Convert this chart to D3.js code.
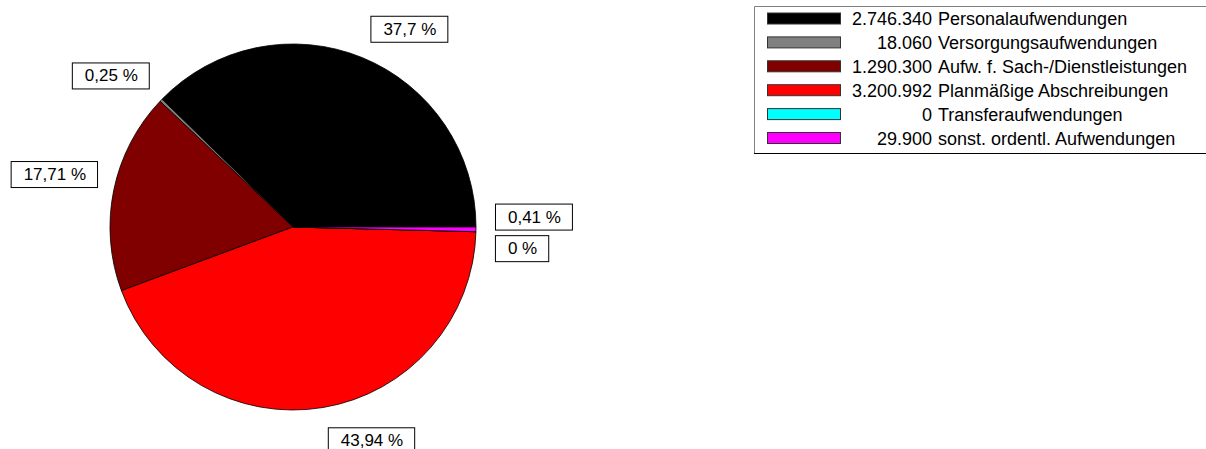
<!DOCTYPE html>
<html>
<head>
<meta charset="utf-8">
<script src="https://cdn.jsdelivr.net/npm/d3@7"></script>
<style>
  html, body { margin: 0; padding: 0; background: #fff; }
  svg { display: block; font-family: "Liberation Sans", Arial, sans-serif; }
</style>
</head>
<body>
<svg id="chart" width="1206" height="449"></svg>
<script>
// ---- data ----
const categories = [
  "Personalaufwendungen",
  "Versorgungsaufwendungen",
  "Aufw. f. Sach-/Dienstleistungen",
  "Planmäßige Abschreibungen",
  "Transferaufwendungen",
  "sonst. ordentl. Aufwendungen"
];
const values = [2746340, 18060, 1290300, 3200992, 0, 29900];
const colors = ["#000000", "#808080", "#800000", "#ff0000", "#00ffff", "#ff00ff"];

// ---- layout ----
const cx = 293, cy = 227, R = 183, labelR = 200;
const fontSize = 17, legendFont = 18;

const svg = d3.select("#chart");
const de = d3.formatLocale({decimal: ",", thousands: ".", grouping: [3], currency: ["", "€"]});
const fmtNum = de.format(",d");
const total = d3.sum(values);
const fmtPct = v => {
  const p = Math.round(v / total * 10000) / 100;
  return de.format(",")(p) + " %";
};

const data = categories.map((c, i) => ({name: c, value: values[i], color: colors[i], i}));

// counter-clockwise starting at 3 o'clock
const pie = d3.pie().value(d => d.value).sort(null)
  .startAngle(Math.PI / 2).endAngle(Math.PI / 2 - 2 * Math.PI);
const arcs = pie(data);
const arc = d3.arc().innerRadius(0).outerRadius(R);

const g = svg.append("g").attr("transform", `translate(${cx},${cy})`);
g.selectAll("path.slice").data(arcs).enter().append("path")
  .attr("class", "slice")
  .attr("d", arc)
  .attr("fill", d => d.data.color)
  .attr("stroke", "#000")
  .attr("stroke-width", 0.8)
  .attr("stroke-linejoin", "round");

// ---- percentage labels ----
const placed = [];
const lab = svg.append("g");
arcs.forEach(a => {
  const mid = (a.startAngle + a.endAngle) / 2;
  const ax = cx + labelR * Math.sin(mid);
  const ay = cy - labelR * Math.cos(mid);
  const txt = fmtPct(a.data.value);
  const t = lab.append("text").attr("font-size", fontSize).text(txt);
  const tw = t.node().getComputedTextLength();
  const bw = tw + 24, bh = 26;
  const right = Math.sin(mid) >= 0;
  let up = Math.cos(mid) > 0;
  let bx = right ? ax + 2 : ax - bw;
  let by = up ? ay - bh : ay + 3;
  const overlaps = (x, y) => placed.some(p => x < p.x + p.w && x + bw > p.x && y < p.y + p.h && y + bh > p.y);
  if (overlaps(bx, by)) {
    up = !up;
    by = up ? ay - bh : ay + 3;
  }
  placed.push({x: bx, y: by, w: bw, h: bh});
  lab.append("rect")
    .attr("x", bx + 0.5).attr("y", by + 0.5)
    .attr("width", bw).attr("height", bh)
    .attr("fill", "#fff").attr("stroke", "#000").attr("stroke-width", 1);
  t.attr("x", bx + bw / 2 + 1).attr("y", by + bh / 2 + 0.5)
    .attr("text-anchor", "middle").attr("dominant-baseline", "central")
    .attr("fill", "#000");
  t.raise();
});

// ---- legend ----
const lx = 754, ly = 6, lw = 460, lh = 147;
const leg = svg.append("g");
leg.append("rect").attr("x", lx + 0.5).attr("y", ly + 0.5).attr("width", lw).attr("height", lh)
  .attr("fill", "#fff").attr("stroke", "none");
leg.append("line").attr("x1", lx + 0.5).attr("y1", ly + 0.5).attr("x2", lx + lw).attr("y2", ly + 0.5).attr("stroke", "#808080");
leg.append("line").attr("x1", lx + 0.5).attr("y1", ly + 0.5).attr("x2", lx + 0.5).attr("y2", ly + lh).attr("stroke", "#808080");
leg.append("line").attr("x1", lx).attr("y1", ly + lh + 0.5).attr("x2", lx + lw).attr("y2", ly + lh + 0.5).attr("stroke", "#000");

const rowY = d3.scaleLinear().domain([0, 1]).range([18.5, 18.5 + 23.9]);
const rows = leg.selectAll("g.row").data(data).enter().append("g").attr("class", "row")
  .attr("transform", d => `translate(0,${rowY(d.i)})`);
rows.append("rect")
  .attr("x", 767.5).attr("y", -5.5).attr("width", 73).attr("height", 11)
  .attr("fill", d => d.color).attr("stroke", "#333").attr("stroke-width", 1);
rows.append("text")
  .attr("x", 932).attr("y", 0.5).attr("dominant-baseline", "central")
  .attr("text-anchor", "end").attr("font-size", legendFont).attr("fill", "#000")
  .text(d => fmtNum(d.value));
rows.append("text")
  .attr("x", 938).attr("y", 0.5).attr("dominant-baseline", "central")
  .attr("font-size", legendFont).attr("fill", "#000")
  .text(d => d.name);
</script>
</body>
</html>
